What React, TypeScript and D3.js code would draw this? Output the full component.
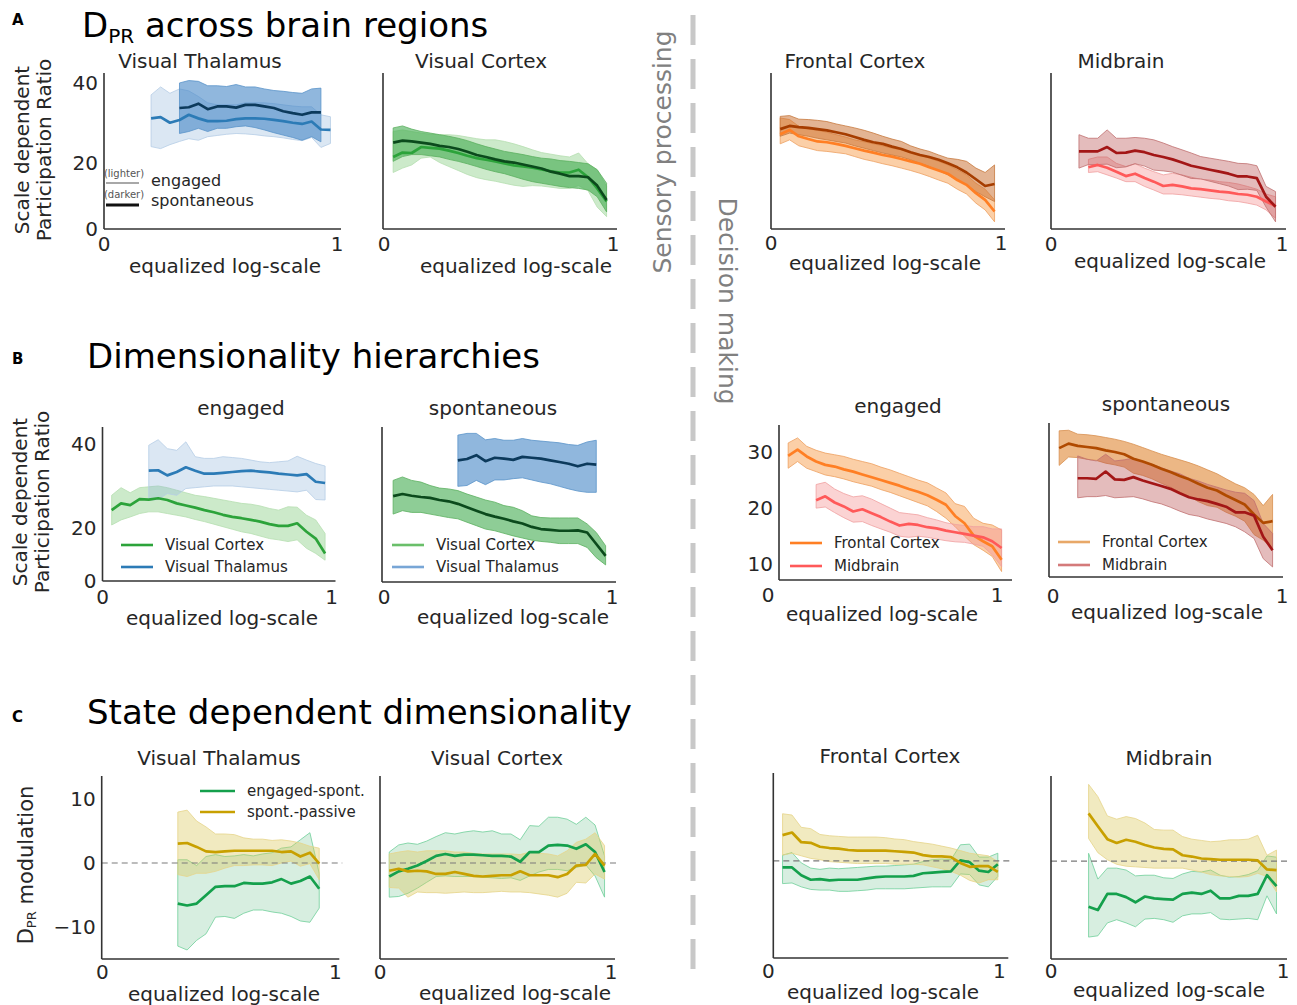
import * as d3 from "d3";

// shared x grid (equalized log-scale bins)
const GRID = [0.040, 0.081, 0.121, 0.162, 0.202, 0.243, 0.283, 0.324, 0.364, 0.405, 0.445, 0.486,
  0.526, 0.567, 0.607, 0.648, 0.688, 0.729, 0.769, 0.810, 0.850, 0.891, 0.931, 0.972];

type Band = { start: number; mean: number[]; lo: number[]; hi: number[] };
const band = (start: number, mean: number[], lo: number[], hi: number[]): Band => ({ start, mean, lo, hi });

// ---- A: D_PR across brain regions ----
const aThalEngaged = band(4,
  [31.1, 31.4, 30.0, 30.7, 32.0, 31.1, 30.4, 30.4, 30.5, 30.9, 31.1, 31.1, 31.0, 30.7, 30.4, 30.0, 29.7, 30.3, 28.3, 28.2],
  [24.0, 23.5, 24.5, 25.3, 26.0, 25.6, 26.5, 26.8, 27.1, 27.3, 27.2, 27.0, 26.7, 26.5, 26.2, 25.8, 25.5, 26.3, 23.8, 24.8],
  [37.0, 39.0, 37.4, 38.5, 38.0, 36.6, 35.0, 34.5, 34.5, 34.5, 35.0, 35.0, 35.0, 34.8, 34.5, 34.2, 34.0, 34.0, 32.0, 31.5]);
const aThalSpont = band(7,
  [33.7, 33.9, 34.8, 33.4, 34.1, 34.1, 33.8, 34.5, 34.5, 34.1, 33.7, 32.9, 32.4, 32.0, 32.6, 32.6],
  [27.3, 27.8, 28.6, 27.8, 28.6, 28.6, 29.0, 29.2, 28.8, 28.2, 27.5, 26.9, 26.3, 25.6, 26.5, 25.2],
  [40.0, 40.6, 40.4, 39.3, 39.3, 39.1, 39.6, 39.0, 39.0, 38.5, 38.1, 37.9, 37.6, 37.4, 38.5, 38.7]);
const aCtxEngaged = band(0,
  [21.4, 22.5, 22.4, 23.9, 23.7, 23.5, 23.0, 22.4, 21.7, 21.1, 20.7, 20.3, 19.8, 19.3, 19.0, 18.7, 18.3, 17.8, 17.5, 17.5, 18.2, 16.3, 13.5, 10.2],
  [17.5, 18.6, 19.4, 21.1, 21.4, 20.0, 19.0, 18.0, 17.0, 16.2, 15.7, 15.3, 14.8, 14.3, 14.0, 14.2, 14.1, 13.8, 13.5, 13.5, 14.2, 12.9, 8.8, 6.4],
  [27.8, 28.2, 27.8, 27.4, 27.1, 27.0, 27.0, 26.8, 26.4, 26.0, 25.7, 25.7, 25.3, 24.7, 24.0, 23.2, 22.5, 22.1, 21.7, 21.4, 22.4, 19.7, 18.2, 14.0]);
const aCtxSpont = band(0,
  [25.0, 25.5, 25.3, 25.0, 24.7, 24.2, 23.9, 23.4, 22.7, 21.9, 21.4, 20.8, 20.3, 20.0, 19.5, 19.0, 18.5, 17.7, 17.2, 16.6, 16.6, 16.3, 14.2, 10.6],
  [20.3, 21.5, 22.0, 22.0, 21.7, 21.4, 20.8, 20.3, 19.7, 19.0, 18.3, 17.7, 17.2, 16.5, 15.8, 15.2, 14.8, 14.4, 14.0, 13.7, 13.5, 13.1, 11.4, 7.6],
  [28.7, 29.2, 28.4, 27.8, 27.4, 27.0, 26.6, 26.1, 25.5, 24.7, 24.0, 23.4, 22.8, 22.4, 22.0, 21.5, 21.1, 20.9, 20.5, 20.3, 20.0, 19.7, 18.2, 14.8]);
const aFrontEngaged = band(0,
  [27.1, 28.2, 26.6, 25.9, 25.3, 25.1, 24.7, 24.2, 23.6, 23.0, 22.5, 21.9, 21.5, 20.9, 20.3, 19.7, 18.8, 18.0, 17.2, 15.6, 14.4, 12.3, 10.6, 7.7],
  [24.7, 25.7, 24.2, 23.6, 23.0, 22.8, 22.5, 22.2, 21.5, 20.8, 20.3, 19.7, 19.2, 18.6, 18.0, 17.3, 16.5, 15.6, 14.8, 13.3, 12.1, 9.8, 8.1, 5.1],
  [31.2, 30.8, 29.1, 28.4, 28.1, 27.6, 27.0, 26.4, 25.7, 25.2, 24.7, 24.2, 23.6, 23.2, 22.5, 21.9, 21.1, 20.3, 19.4, 18.2, 16.9, 14.8, 13.3, 10.6]);
const aFrontSpont = band(0,
  [28.4, 29.2, 28.9, 28.7, 28.4, 28.1, 27.6, 27.1, 26.4, 25.7, 25.1, 24.7, 24.0, 23.4, 22.6, 21.9, 21.4, 20.7, 19.8, 18.8, 17.5, 15.8, 14.1, 14.6],
  [26.6, 27.4, 27.0, 26.6, 26.1, 25.7, 25.3, 24.9, 24.2, 23.6, 23.0, 22.4, 21.9, 21.4, 20.7, 19.8, 19.0, 18.0, 16.9, 15.6, 14.4, 12.7, 11.4, 10.2],
  [31.6, 31.8, 30.9, 30.8, 30.6, 30.3, 29.7, 29.2, 28.7, 28.1, 27.4, 26.6, 25.9, 25.3, 24.2, 23.4, 22.8, 21.9, 21.1, 20.8, 20.3, 18.6, 17.5, 19.4]);
const aMidEngaged = band(3,
  [18.8, 19.4, 18.7, 17.7, 16.6, 17.2, 16.1, 15.2, 14.1, 14.4, 14.0, 13.5, 13.3, 13.0, 12.7, 12.5, 12.1, 11.9, 11.4, 10.2, 9.1],
  [17.5, 17.7, 16.9, 16.1, 15.2, 15.2, 14.0, 13.1, 12.1, 12.1, 11.9, 11.6, 11.3, 11.0, 10.8, 10.4, 10.2, 9.8, 9.3, 8.1, 6.0],
  [20.8, 21.4, 21.4, 19.8, 19.0, 19.7, 18.6, 17.7, 16.9, 17.3, 16.9, 16.3, 15.8, 15.6, 15.2, 15.0, 14.6, 14.0, 13.3, 12.1, 11.4]);
const aMidSpont = band(2,
  [22.8, 22.8, 22.8, 23.9, 22.4, 22.5, 23.0, 22.6, 21.9, 21.4, 20.8, 20.0, 19.2, 18.7, 18.2, 17.7, 17.2, 16.5, 16.5, 16.1, 11.4, 8.9],
  [18.6, 19.5, 19.5, 19.6, 18.7, 18.9, 19.7, 19.1, 18.1, 17.9, 17.6, 16.8, 16.0, 15.9, 15.3, 14.7, 14.1, 13.2, 13.3, 13.0, 8.8, 5.1],
  [27.0, 26.1, 26.1, 28.2, 26.1, 26.1, 26.3, 26.1, 25.7, 24.9, 24.0, 23.2, 22.4, 21.5, 21.1, 20.7, 20.3, 19.8, 19.7, 19.2, 14.0, 12.7]);

// ---- B: Dimensionality hierarchies ----
const bCtxEngaged = band(0,
  [24.3, 25.9, 25.5, 26.9, 26.8, 27.1, 26.7, 25.9, 25.4, 24.9, 24.3, 23.8, 23.2, 22.7, 22.4, 22.0, 21.6, 21.0, 20.6, 20.6, 21.2, 19.2, 17.6, 14.1],
  [20.8, 22.0, 22.7, 23.5, 23.9, 23.9, 23.5, 23.1, 22.7, 22.1, 21.6, 21.0, 20.4, 19.8, 19.2, 18.8, 18.2, 17.6, 17.3, 16.9, 17.3, 15.3, 14.1, 12.5],
  [27.8, 29.6, 28.4, 29.6, 29.8, 30.0, 29.6, 29.0, 28.4, 27.8, 27.5, 27.1, 26.7, 26.3, 25.9, 25.7, 25.3, 24.7, 24.3, 25.1, 25.0, 23.1, 22.0, 18.8]);
const bThalEngaged = band(4,
  [33.6, 33.7, 32.5, 33.3, 34.4, 33.6, 32.9, 32.9, 33.1, 33.3, 33.5, 33.6, 33.4, 33.2, 32.9, 32.7, 32.5, 32.8, 31.0, 30.7],
  [26.7, 26.8, 28.2, 27.8, 29.4, 29.6, 29.8, 30.0, 30.0, 30.0, 29.8, 29.6, 29.4, 29.2, 29.0, 28.8, 28.6, 29.0, 26.8, 26.7],
  [39.6, 40.9, 38.8, 38.4, 40.4, 36.9, 36.5, 36.5, 36.9, 36.7, 36.5, 36.1, 35.7, 35.5, 35.7, 35.9, 37.0, 36.1, 35.3, 34.7]);
const bCtxSpont = band(0,
  [27.7, 28.2, 27.8, 27.5, 27.3, 26.8, 26.5, 25.9, 25.1, 24.3, 23.5, 22.9, 22.4, 21.8, 21.3, 20.5, 20.0, 19.8, 19.6, 19.6, 19.7, 19.2, 16.5, 13.7],
  [23.5, 24.3, 23.9, 23.9, 23.5, 23.1, 22.7, 22.4, 21.6, 20.8, 20.0, 19.6, 19.0, 18.4, 17.9, 17.4, 17.1, 16.9, 16.6, 16.6, 16.6, 15.7, 13.3, 11.6],
  [31.4, 32.2, 31.4, 31.0, 30.2, 29.6, 29.4, 29.0, 28.2, 27.5, 26.8, 26.3, 25.5, 25.1, 24.3, 23.1, 22.7, 22.6, 22.6, 22.6, 22.6, 21.2, 19.2, 16.1]);
const bThalSpont = band(7,
  [36.1, 36.4, 37.3, 35.9, 36.7, 36.5, 36.2, 36.9, 36.7, 36.5, 36.1, 35.7, 35.3, 34.7, 35.3, 35.1],
  [30.0, 30.2, 31.4, 30.4, 31.5, 31.5, 31.8, 32.0, 31.5, 31.0, 30.6, 30.0, 29.4, 28.9, 28.6, 28.6],
  [42.0, 42.4, 42.4, 40.9, 41.2, 40.8, 40.8, 41.2, 40.8, 40.6, 40.4, 40.2, 39.8, 39.6, 40.4, 40.8]);
const bFrontEngaged = band(0,
  [29.3, 30.4, 29.2, 28.3, 27.7, 27.4, 26.9, 26.5, 26.0, 25.5, 25.0, 24.5, 24.0, 23.4, 22.9, 22.3, 21.5, 20.6, 18.6, 17.3, 15.1, 14.1, 13.2, 10.8],
  [27.1, 28.3, 27.1, 26.5, 25.9, 25.6, 25.2, 24.7, 24.3, 23.9, 23.3, 22.8, 22.2, 21.6, 21.0, 20.4, 19.4, 18.2, 16.7, 15.0, 13.5, 12.5, 11.4, 8.7],
  [31.6, 32.5, 31.0, 30.3, 29.8, 29.5, 29.2, 28.7, 28.3, 27.9, 27.3, 26.8, 26.2, 25.6, 25.0, 24.5, 23.6, 22.7, 20.8, 20.3, 18.2, 17.3, 17.0, 16.1]);
const bMidEngaged = band(3,
  [21.4, 22.1, 21.0, 20.3, 19.4, 19.8, 19.1, 18.4, 17.6, 16.9, 17.2, 17.0, 16.6, 16.4, 16.0, 15.7, 15.4, 15.1, 14.8, 14.1, 12.9],
  [20.0, 20.2, 19.2, 18.3, 17.5, 17.6, 16.9, 16.3, 15.7, 15.0, 14.8, 15.0, 14.8, 14.5, 14.2, 14.0, 13.9, 13.6, 13.2, 11.7, 9.6],
  [24.2, 24.6, 23.4, 22.6, 22.0, 22.2, 21.6, 20.8, 20.0, 19.2, 19.0, 18.8, 18.3, 17.9, 17.4, 17.1, 16.9, 16.7, 16.7, 16.3, 16.3]);
const bFrontSpont = band(0,
  [30.3, 31.1, 30.7, 30.5, 30.3, 29.9, 29.6, 29.2, 28.4, 27.9, 27.3, 26.6, 26.0, 25.3, 24.7, 23.9, 23.2, 22.7, 21.8, 21.0, 20.2, 18.4, 16.9, 17.2],
  [27.2, 28.7, 28.6, 28.3, 28.1, 27.6, 27.3, 26.9, 25.8, 25.4, 24.8, 24.0, 23.3, 22.4, 21.7, 20.7, 20.0, 19.7, 18.8, 18.1, 17.2, 14.8, 13.8, 12.4],
  [33.4, 33.5, 32.8, 32.7, 32.5, 32.2, 31.9, 31.5, 31.0, 30.4, 29.8, 29.2, 28.7, 28.2, 27.7, 27.1, 26.4, 25.7, 24.8, 23.9, 23.2, 22.0, 20.0, 22.0]);
const bMidSpont = band(2,
  [24.9, 24.9, 24.8, 26.1, 24.7, 24.6, 25.1, 24.5, 24.0, 23.5, 23.0, 22.2, 21.5, 21.1, 20.8, 20.3, 19.8, 18.8, 18.8, 18.2, 14.4, 12.0],
  [21.4, 21.6, 21.6, 21.8, 21.4, 21.5, 21.6, 21.2, 20.7, 20.3, 19.7, 19.0, 18.4, 18.1, 17.6, 17.2, 16.8, 16.2, 15.3, 14.1, 10.5, 9.0],
  [28.9, 28.3, 28.0, 29.2, 28.0, 28.2, 28.5, 27.9, 27.4, 26.8, 26.2, 25.7, 24.9, 24.4, 23.8, 23.3, 22.8, 22.4, 22.2, 20.9, 16.8, 15.0]);

// ---- C: State dependent dimensionality ----
const cThalEngSpont = band(7,
  [-6.3, -6.6, -6.3, -5.0, -3.7, -3.6, -3.6, -3.1, -3.2, -3.2, -3.0, -2.5, -3.2, -2.8, -2.1, -4.0],
  [-12.9, -13.5, -12.0, -11.0, -8.4, -8.3, -8.6, -7.8, -7.3, -7.3, -7.6, -7.8, -8.3, -9.0, -9.2, -7.0],
  [0.5, 0.5, -0.4, 1.0, 1.3, 1.0, 1.1, 1.3, 1.1, 1.4, 1.6, 2.3, 2.5, 3.6, 4.7, -1.6]);
const cThalSpontPass = band(7,
  [3.0, 3.1, 2.5, 1.8, 1.7, 1.8, 1.9, 1.9, 1.9, 1.9, 1.9, 1.7, 1.8, 1.0, 1.6, -0.1],
  [-1.8, -2.1, -1.6, -1.6, -1.3, -0.8, -0.4, -0.4, -0.3, -0.3, -0.4, 0.0, 0.3, -0.5, -0.1, -2.6],
  [7.9, 8.2, 6.5, 5.6, 4.5, 4.5, 4.4, 3.9, 3.7, 3.7, 3.5, 3.6, 3.4, 3.1, 2.6, 2.3]);
const cCtxEngSpont = band(0,
  [-2.1, -1.3, -0.9, -0.4, 0.3, 1.1, 1.4, 1.1, 1.3, 1.3, 1.2, 1.1, 1.1, 1.0, 0.2, 1.7, 1.7, 2.7, 2.8, 2.7, 2.2, 2.9, 1.7, -1.4],
  [-5.3, -5.2, -4.7, -3.9, -3.0, -2.1, -2.0, -2.1, -2.1, -2.1, -2.2, -2.3, -2.4, -2.3, -2.7, -2.0, -1.4, -1.0, -1.0, -1.2, -0.7, -0.3, -2.0, -5.3],
  [1.7, 2.8, 3.1, 2.9, 3.4, 4.1, 4.7, 4.5, 4.8, 5.0, 4.8, 5.0, 4.5, 4.5, 3.6, 5.8, 5.7, 7.1, 7.1, 6.8, 6.0, 7.1, 5.9, 1.1]);
const cCtxSpontPass = band(0,
  [-1.2, -0.9, -1.3, -1.2, -1.3, -1.7, -1.7, -1.4, -1.7, -2.0, -2.1, -2.0, -1.9, -1.9, -1.3, -1.9, -1.9, -1.9, -2.2, -1.7, -0.4, -0.3, 1.4, -0.4],
  [-3.8, -3.9, -5.3, -4.5, -4.6, -4.6, -4.7, -4.6, -4.5, -4.6, -4.6, -4.5, -4.4, -4.5, -4.5, -4.6, -4.8, -5.0, -5.3, -4.7, -3.0, -3.1, -1.7, -2.5],
  [1.4, 1.7, 1.9, 1.7, 1.9, 1.9, 1.9, 1.7, 1.7, 1.5, 1.4, 1.4, 1.4, 1.4, 1.3, 1.7, 1.5, 1.4, 1.1, 1.9, 3.2, 3.7, 4.7, 2.7]);
const cFrontEngSpont = band(0,
  [-1.0, -1.0, -2.2, -2.9, -2.8, -3.0, -2.9, -2.9, -2.9, -2.7, -2.5, -2.4, -2.4, -2.4, -2.3, -1.9, -1.8, -1.7, -1.6, 0.1, -0.2, -1.5, -1.7, -0.5],
  [-3.5, -3.4, -4.0, -4.4, -4.5, -4.5, -4.7, -4.7, -4.6, -4.5, -4.3, -4.3, -4.3, -4.3, -4.2, -4.1, -4.0, -4.0, -4.0, -2.0, -2.1, -3.7, -4.0, -2.4],
  [0.9, 1.3, -0.3, -1.1, -1.3, -1.1, -1.2, -1.1, -1.0, -0.9, -0.8, -0.8, -0.7, -0.6, -0.5, -0.1, 0.2, 0.3, 0.2, 2.5, 2.6, 0.6, 0.6, 1.2]);
const cFrontSpontPass = band(0,
  [4.0, 4.4, 2.9, 2.8, 2.2, 2.0, 1.9, 1.7, 1.6, 1.6, 1.6, 1.6, 1.5, 1.4, 1.3, 0.9, 0.7, 0.7, 0.6, -0.3, -0.9, -0.8, -0.8, -1.7],
  [0.9, 1.2, 0.8, 0.4, 0.2, -0.1, -0.2, -0.3, -0.4, -0.4, -0.4, -0.4, -0.5, -0.5, -0.5, -0.6, -0.9, -1.2, -1.6, -2.2, -3.0, -3.4, -2.9, -2.9],
  [7.3, 7.1, 5.2, 5.0, 4.1, 3.9, 3.8, 3.7, 3.7, 3.7, 3.7, 3.6, 3.4, 3.3, 3.0, 2.8, 2.6, 2.3, 2.0, 1.6, 1.2, 1.0, 0.8, -0.1]);
const cMidEngSpont = band(3,
  [-7.1, -7.6, -5.1, -5.1, -5.6, -6.4, -5.5, -5.8, -5.9, -6.0, -5.1, -4.9, -5.1, -4.6, -5.8, -5.8, -5.4, -5.4, -5.1, -2.2, -3.9],
  [-11.8, -11.6, -9.6, -9.1, -9.6, -10.2, -9.0, -8.9, -9.1, -9.5, -8.5, -8.2, -8.2, -8.0, -9.0, -9.1, -9.0, -8.9, -9.1, -5.4, -8.2],
  [1.2, -2.8, -1.1, -1.1, -1.4, -2.3, -2.2, -2.2, -2.6, -2.7, -2.0, -1.6, -1.7, -1.4, -2.2, -2.5, -2.4, -2.1, -1.5, 0.8, 0.6]);
const cMidSpontPass = band(3,
  [7.4, 5.4, 3.4, 2.8, 3.3, 3.0, 2.5, 2.1, 1.9, 1.8, 0.9, 0.7, 0.4, 0.3, 0.2, 0.2, 0.2, 0.2, 0.1, -1.3, -1.4],
  [3.5, 1.3, 0.2, -0.5, -0.8, -0.9, -1.0, -1.1, -1.1, -1.1, -1.1, -1.4, -1.7, -2.1, -2.3, -2.4, -2.5, -2.4, -1.9, -2.4, -4.8],
  [11.9, 10.0, 7.0, 6.5, 6.9, 6.6, 5.9, 4.9, 4.8, 4.8, 3.8, 3.4, 3.2, 3.0, 3.1, 3.3, 3.3, 3.4, 4.0, 0.9, 1.7]);

const FONT = "'DejaVu Sans', sans-serif";
const INK = "#262626";

type Style = { line: string; fill: string; op: number; edge: string };
const THAL_ENG: Style = { line: "#2c7bb6", fill: "#8fb3d9", op: 0.32, edge: "#b5cde6" };
const THAL_SPO: Style = { line: "#0c3a5c", fill: "#3f83c4", op: 0.58, edge: "#5a93c9" };
const CTX_ENG: Style = { line: "#2ca33a", fill: "#8fd08a", op: 0.45, edge: "#b5dfb0" };
const CTX_SPO: Style = { line: "#0b4a1c", fill: "#3da84a", op: 0.58, edge: "#5cb060" };
const FRO_ENG: Style = { line: "#ff7f24", fill: "#f7a050", op: 0.5, edge: "#eea060" };
const FRO_SPO: Style = { line: "#a63d00", fill: "#c86a28", op: 0.5, edge: "#c87a40" };
const FRO_SPO_B: Style = { line: "#b04a00", fill: "#e08a3a", op: 0.62, edge: "#d89050" };
const MID_ENG: Style = { line: "#ff5959", fill: "#f59090", op: 0.4, edge: "#f0a0a0" };
const MID_SPO: Style = { line: "#a31616", fill: "#b85050", op: 0.38, edge: "#c07070" };
const MOD_ENG: Style = { line: "#14a04c", fill: "#8ccfa6", op: 0.35, edge: "#6fcf9a" };
const MOD_PAS: Style = { line: "#c8a000", fill: "#d9c95a", op: 0.38, edge: "#e6d48a" };

type Pt = { x: number; m: number; lo: number; hi: number };
const toPoints = (b: Band): Pt[] =>
  b.mean.map((m, i) => ({ x: GRID[b.start + i], m, lo: b.lo[i], hi: b.hi[i] }));

type PanelCfg = {
  left: number; width: number; top: number; bottom: number; spineX?: number;
  yDomain: [number, number]; yTicks?: number[]; tickDx?: number; tickDy?: number;
  series: [Band, Style][];
  title: string; titleX: number; titleY: number;
  xLabelX: number; xLabelY: number; zero?: boolean;
};

const fmt = (v: number) => (v < 0 ? `\u2212${-v}` : `${v}`);

function Panel({ cfg }: { cfg: PanelCfg }) {
  const x = d3.scaleLinear().domain([0, 1]).range([cfg.left, cfg.left + cfg.width]);
  const y = d3.scaleLinear().domain(cfg.yDomain).range([cfg.bottom, cfg.top]);
  const yc = y.copy().clamp(true);
  const area = d3.area<Pt>().x((d) => x(d.x)).y0((d) => y(d.lo)).y1((d) => y(d.hi));
  const line = d3.line<Pt>().x((d) => x(d.x)).y((d) => y(d.m));
  const sx = cfg.spineX ?? cfg.left;
  const dx = cfg.tickDx ?? 0;
  const dy = cfg.tickDy ?? 16;
  return (
    <g>
      {cfg.series.map(([b, s], i) => (
        <path key={`a${i}`} d={area(toPoints(b)) ?? ""} fill={s.fill} fillOpacity={s.op}
          stroke={s.edge} strokeOpacity={0.8} strokeWidth={1} />
      ))}
      {cfg.zero && (
        <line x1={sx} x2={x(1.03)} y1={y(0)} y2={y(0)} stroke="#7a7a7a" strokeWidth={1.2} strokeDasharray="6 4" />
      )}
      {cfg.series.map(([b, s], i) => (
        <path key={`l${i}`} d={line(toPoints(b)) ?? ""} fill="none" stroke={s.line} strokeWidth={2.7}
          strokeLinejoin="round" />
      ))}
      <line x1={sx} x2={sx} y1={cfg.top} y2={cfg.bottom} stroke="#333" strokeWidth={1.6} />
      <line x1={sx} x2={x(1) + 4} y1={cfg.bottom} y2={cfg.bottom} stroke="#333" strokeWidth={1.6} />
      {[0, 1].map((t) => (
        <text key={t} x={x(t) + dx} y={cfg.bottom + dy} textAnchor="middle" dominantBaseline="central"
          fontSize={20} fill={INK}>{t}</text>
      ))}
      {(cfg.yTicks ?? []).map((t) => (
        <text key={t} x={sx - 6} y={yc(t)} textAnchor="end" dominantBaseline="central"
          fontSize={20} fill={INK}>{fmt(t)}</text>
      ))}
      <text x={cfg.titleX} y={cfg.titleY} textAnchor="middle" dominantBaseline="central" fontSize={20}
        fill={INK}>{cfg.title}</text>
      <text x={cfg.xLabelX} y={cfg.xLabelY} textAnchor="middle" dominantBaseline="central" fontSize={20}
        fill={INK}>equalized log-scale</text>
    </g>
  );
}

function Legend({ x, y, gap, items, len = 32, size = 15 }:
  { x: number; y: number; gap: number; items: [string, string][]; len?: number; size?: number }) {
  return (
    <g>
      {items.map(([label, color], i) => (
        <g key={label}>
          <line x1={x} x2={x + len} y1={y + i * gap} y2={y + i * gap} stroke={color} strokeWidth={2.6} />
          <text x={x + len + 12} y={y + i * gap} dominantBaseline="central" fontSize={size} fill={INK}>{label}</text>
        </g>
      ))}
    </g>
  );
}

const A_Y: [number, number] = [3.3, 42.5];
const B_Y: [number, number] = [7.6, 43.9];
const B2_Y: [number, number] = [7.2, 34.8];

const PANELS: PanelCfg[] = [
  { left: 104, width: 233, top: 73, bottom: 229, yDomain: A_Y, yTicks: [0, 20, 40], tickDy: 15,
    series: [[aThalEngaged, THAL_ENG], [aThalSpont, THAL_SPO]],
    title: "Visual Thalamus", titleX: 200, titleY: 61, xLabelX: 225, xLabelY: 266 },
  { left: 384, width: 229, spineX: 383, top: 73, bottom: 229, yDomain: A_Y, tickDy: 15,
    series: [[aCtxEngaged, CTX_ENG], [aCtxSpont, CTX_SPO]],
    title: "Visual Cortex", titleX: 481, titleY: 61, xLabelX: 516, xLabelY: 266 },
  { left: 771, width: 230, top: 73, bottom: 229, yDomain: A_Y, tickDy: 14,
    series: [[aFrontEngaged, FRO_ENG], [aFrontSpont, FRO_SPO]],
    title: "Frontal Cortex", titleX: 855, titleY: 61, xLabelX: 885, xLabelY: 263 },
  { left: 1051, width: 231, top: 73, bottom: 229, yDomain: A_Y, tickDy: 15,
    series: [[aMidEngaged, MID_ENG], [aMidSpont, MID_SPO]],
    title: "Midbrain", titleX: 1121, titleY: 61, xLabelX: 1170, xLabelY: 261 },

  { left: 102.5, width: 229, top: 427, bottom: 581, yDomain: B_Y, yTicks: [0, 20, 40],
    series: [[bCtxEngaged, CTX_ENG], [bThalEngaged, THAL_ENG]],
    title: "engaged", titleX: 241, titleY: 408, xLabelX: 222, xLabelY: 618 },
  { left: 384, width: 228, spineX: 382, top: 427, bottom: 582, yDomain: B_Y, tickDy: 15,
    series: [[bCtxSpont, CTX_SPO], [bThalSpont, THAL_SPO]],
    title: "spontaneous", titleX: 493, titleY: 408, xLabelX: 513, xLabelY: 617 },
  { left: 779, width: 229, top: 425, bottom: 580, yDomain: B2_Y, yTicks: [10, 20, 30], tickDx: -11, tickDy: 15,
    series: [[bFrontEngaged, FRO_ENG], [bMidEngaged, MID_ENG]],
    title: "engaged", titleX: 898, titleY: 406, xLabelX: 882, xLabelY: 614 },
  { left: 1050, width: 229, spineX: 1049, top: 423, bottom: 577, yDomain: B2_Y, tickDx: 3, tickDy: 19,
    series: [[bFrontSpont, FRO_SPO_B], [bMidSpont, MID_SPO]],
    title: "spontaneous", titleX: 1166, titleY: 404, xLabelX: 1167, xLabelY: 612 },

  { left: 102.3, width: 233, spineX: 101.7, top: 776, bottom: 959, yDomain: [-14.9, 13.5], yTicks: [-10, 0, 10],
    tickDy: 13, series: [[cThalEngSpont, MOD_ENG], [cThalSpontPass, MOD_PAS]], zero: true,
    title: "Visual Thalamus", titleX: 219, titleY: 758, xLabelX: 224, xLabelY: 994 },
  { left: 380, width: 231, top: 776, bottom: 959, yDomain: [-14.9, 13.5], tickDy: 13,
    series: [[cCtxEngSpont, MOD_ENG], [cCtxSpontPass, MOD_PAS]], zero: true,
    title: "Visual Cortex", titleX: 497, titleY: 758, xLabelX: 515, xLabelY: 993 },
  { left: 773.3, width: 231, top: 773, bottom: 958, yDomain: [-15.0, 13.6], tickDx: -5, tickDy: 13,
    series: [[cFrontEngSpont, MOD_ENG], [cFrontSpontPass, MOD_PAS]], zero: true,
    title: "Frontal Cortex", titleX: 890, titleY: 756, xLabelX: 883, xLabelY: 992 },
  { left: 1051, width: 232, top: 776, bottom: 959, yDomain: [-15.2, 13.2], tickDy: 12,
    series: [[cMidEngSpont, MOD_ENG], [cMidSpontPass, MOD_PAS]], zero: true,
    title: "Midbrain", titleX: 1169, titleY: 758, xLabelX: 1169, xLabelY: 990 },
];

export default function App() {
  return (
    <svg width={1297} height={1005} fontFamily={FONT}
      style={{ position: "absolute", left: 0, top: 0, background: "#fff" }}>
      <rect width={1297} height={1005} fill="#fff" />

      {/* section headers */}
      <text x={12} y={25} fontSize={15} fontWeight="bold" fill="#000">A</text>
      <text x={82} y={37} fontSize={34} fill="#000">D<tspan fontSize={20} dy={6}>PR</tspan>
        <tspan dy={-6}> across brain regions</tspan></text>
      <text x={12} y={364} fontSize={15} fontWeight="bold" fill="#000">B</text>
      <text x={87} y={368} fontSize={34} fill="#000">Dimensionality hierarchies</text>
      <text x={12} y={722} fontSize={15} fontWeight="bold" fill="#000">C</text>
      <text x={87} y={724} fontSize={34} fill="#000">State dependent dimensionality</text>

      {/* divider */}
      <line x1={693} x2={693} y1={15} y2={975} stroke="#c8c8c8" strokeWidth={5} strokeDasharray="30 14" />
      <text transform="translate(662,152) rotate(-90)" textAnchor="middle" dominantBaseline="central"
        fontSize={25} fill="#808080">Sensory processing</text>
      <text transform="translate(727,301) rotate(90)" textAnchor="middle" dominantBaseline="central"
        fontSize={25} fill="#808080">Decision making</text>

      {/* y labels */}
      <text transform="translate(22,150) rotate(-90)" textAnchor="middle" dominantBaseline="central"
        fontSize={20} fill={INK}>Scale dependent</text>
      <text transform="translate(44,150) rotate(-90)" textAnchor="middle" dominantBaseline="central"
        fontSize={20} fill={INK}>Participation Ratio</text>
      <text transform="translate(20,502) rotate(-90)" textAnchor="middle" dominantBaseline="central"
        fontSize={20} fill={INK}>Scale dependent</text>
      <text transform="translate(42,502) rotate(-90)" textAnchor="middle" dominantBaseline="central"
        fontSize={20} fill={INK}>Participation Ratio</text>
      <text transform="translate(26,865) rotate(-90)" textAnchor="middle" dominantBaseline="central"
        fontSize={21} fill={INK}>D<tspan fontSize={13} dy={5}>PR</tspan><tspan dy={-5}> modulation</tspan></text>

      {PANELS.map((p, i) => <Panel key={i} cfg={p} />)}

      {/* A legend: lighter / darker */}
      <text x={124} y={177} textAnchor="middle" fontSize={10} fill="#555">(lighter)</text>
      <line x1={106} x2={139} y1={183} y2={183} stroke="#a8a8a8" strokeWidth={2} />
      <text x={151} y={180} dominantBaseline="central" fontSize={16} fill={INK}>engaged</text>
      <text x={124} y={198} textAnchor="middle" fontSize={10} fill="#555">(darker)</text>
      <line x1={106} x2={139} y1={205} y2={205} stroke="#111" strokeWidth={3} />
      <text x={151} y={200} dominantBaseline="central" fontSize={16} fill={INK}>spontaneous</text>

      <Legend x={121} y={545} gap={22} items={[["Visual Cortex", CTX_ENG.line], ["Visual Thalamus", THAL_ENG.line]]} />
      <Legend x={392} y={545} gap={22} items={[["Visual Cortex", "#6abf6a"], ["Visual Thalamus", "#78a6d6"]]} />
      <Legend x={790} y={543} gap={23} items={[["Frontal Cortex", FRO_ENG.line], ["Midbrain", MID_ENG.line]]} />
      <Legend x={1058} y={542} gap={23} items={[["Frontal Cortex", "#e8a868"], ["Midbrain", "#d47a7a"]]} />
      <Legend x={200} y={791} gap={21} len={35} items={[["engaged-spont.", MOD_ENG.line], ["spont.-passive", MOD_PAS.line]]} />
    </svg>
  );
}
